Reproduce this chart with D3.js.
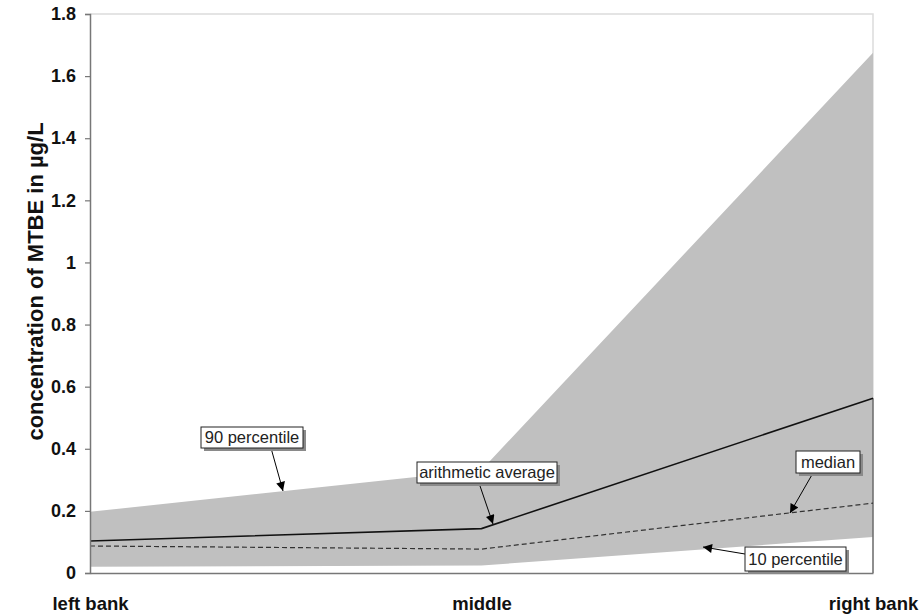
<!DOCTYPE html>
<html>
<head>
<meta charset="utf-8">
<script src="https://cdn.jsdelivr.net/npm/d3@7"></script>
<style>
  html, body { margin: 0; padding: 0; background: #fff; }
  svg { display: block; }
</style>
</head>
<body>
<svg id="chart" width="922" height="614"></svg>
<script>
// MTBE concentration across the river cross-section (µg/L)
const categories = ["left bank", "middle", "right bank"];
const p90 = [0.197, 0.332, 1.675];
const p10 = [0.02, 0.024, 0.116];
const average = [0.103, 0.143, 0.563];
const median = [0.087, 0.077, 0.225];
const yTicks = [0, 0.2, 0.4, 0.6, 0.8, 1, 1.2, 1.4, 1.6, 1.8];
const yTickLabels = ["0", "0.2", "0.4", "0.6", "0.8", "1", "1.2", "1.4", "1.6", "1.8"];

const svg = d3.select("#chart");
const plotLeft = 90, plotRight = 873, plotTop = 14, plotBottom = 573;

const x = d3.scalePoint().domain(categories).range([plotLeft, plotRight]);
const y = d3.scaleLinear().domain([0, 1.8]).range([plotBottom, plotTop]);

const rows = categories.map((c, i) => ({
  c, p90: p90[i], p10: p10[i], avg: average[i], med: median[i]
}));

// light frame on top and right
svg.append("path")
  .attr("d", `M${plotLeft},${plotTop}H${plotRight}V${plotBottom}`)
  .attr("fill", "none").attr("stroke", "#dcdcdc").attr("stroke-width", 1.5);

// 10–90 percentile band
svg.append("path")
  .datum(rows)
  .attr("fill", "#c0c0c0")
  .attr("d", d3.area().x(d => x(d.c)).y0(d => y(d.p10)).y1(d => y(d.p90)));

// vertical drop at the right bank
svg.append("line")
  .attr("x1", x("right bank")).attr("x2", x("right bank"))
  .attr("y1", y(average[2])).attr("y2", plotBottom)
  .attr("stroke", "#555").attr("stroke-width", 1.2);

// median (dashed)
svg.append("path")
  .datum(rows)
  .attr("fill", "none").attr("stroke", "#333").attr("stroke-width", 1.2)
  .attr("stroke-dasharray", "5,3")
  .attr("d", d3.line().x(d => x(d.c)).y(d => y(d.med)));

// arithmetic average (solid)
svg.append("path")
  .datum(rows)
  .attr("fill", "none").attr("stroke", "#111").attr("stroke-width", 1.6)
  .attr("d", d3.line().x(d => x(d.c)).y(d => y(d.avg)));

// axes
const yAxis = d3.axisLeft(y).tickValues(yTicks)
  .tickFormat((d, i) => yTickLabels[i]).tickSize(5).tickPadding(9);
const gy = svg.append("g").attr("transform", `translate(${plotLeft},0)`).call(yAxis);
gy.select(".domain").attr("stroke", "#777").attr("stroke-width", 1.5);
gy.selectAll(".tick line").attr("stroke", "#777").attr("stroke-width", 1.2);
gy.selectAll(".tick text")
  .attr("font-family", "Liberation Sans, Arial, sans-serif")
  .attr("font-weight", "bold").attr("font-size", 18).attr("fill", "#111");

const xAxis = d3.axisBottom(x).tickSize(0).tickPadding(24);
const gx = svg.append("g").attr("transform", `translate(0,${plotBottom})`).call(xAxis);
gx.select(".domain").attr("stroke", "#777").attr("stroke-width", 1.5);
gx.selectAll(".tick text")
  .attr("font-family", "Liberation Sans, Arial, sans-serif")
  .attr("font-weight", "bold").attr("font-size", 18.5).attr("fill", "#111");

// y-axis title
svg.append("text")
  .attr("transform", `translate(43,${(plotTop + plotBottom) / 2 - 12}) rotate(-90)`)
  .attr("text-anchor", "middle")
  .attr("font-family", "Liberation Sans, Arial, sans-serif")
  .attr("font-weight", "bold").attr("font-size", 22).attr("fill", "#111")
  .text("concentration of MTBE in µg/L");

// callout labels with arrows
svg.append("defs").append("marker")
  .attr("id", "head").attr("viewBox", "0 0 10 10")
  .attr("refX", 10).attr("refY", 5)
  .attr("markerWidth", 11).attr("markerHeight", 9)
  .attr("markerUnits", "userSpaceOnUse")
  .attr("orient", "auto")
  .append("path").attr("d", "M0,0L10,5L0,10Z").attr("fill", "#000");

const callouts = [
  { text: "90 percentile", bx: 201, by: 427, bw: 102, bh: 21, from: [271, 448], to: [283, 491] },
  { text: "arithmetic average", bx: 417, by: 462, bw: 140, bh: 21, from: [479, 483], to: [493, 524] },
  { text: "median", bx: 796, by: 451, bw: 64, bh: 22, from: [813, 473], to: [790, 513] },
  { text: "10 percentile", bx: 745, by: 547, bw: 101, bh: 24, from: [745, 554], to: [703, 547] }
];

callouts.forEach(c => {
  svg.append("line")
    .attr("x1", c.from[0]).attr("y1", c.from[1])
    .attr("x2", c.to[0]).attr("y2", c.to[1])
    .attr("stroke", "#000").attr("stroke-width", 1)
    .attr("marker-end", "url(#head)");
  svg.append("rect")
    .attr("x", c.bx + 3).attr("y", c.by + 3).attr("width", c.bw).attr("height", c.bh)
    .attr("fill", "#8a8a8a");
  svg.append("rect")
    .attr("x", c.bx).attr("y", c.by).attr("width", c.bw).attr("height", c.bh)
    .attr("fill", "#fff").attr("stroke", "#222").attr("stroke-width", 1);
  svg.append("text")
    .attr("x", c.bx + c.bw / 2).attr("y", c.by + c.bh / 2 + 5.5)
    .attr("text-anchor", "middle")
    .attr("font-family", "Liberation Sans, Arial, sans-serif")
    .attr("font-size", 16.5).attr("fill", "#222")
    .text(c.text);
});
</script>
</body>
</html>
